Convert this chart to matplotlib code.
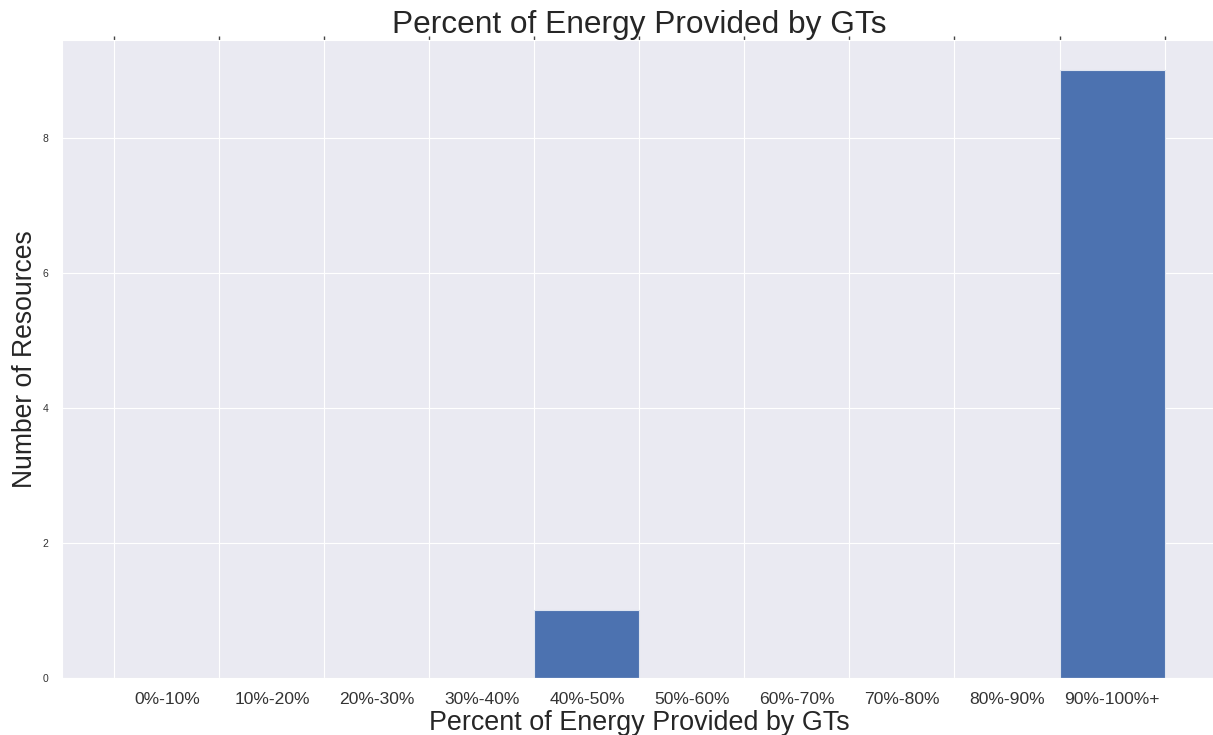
import numpy as np
import matplotlib
matplotlib.use('Agg')
import matplotlib.pyplot as plt
import seaborn as sns

# histogram counts per 10% bin
bin_edges = [0, 10, 20, 30, 40, 50, 60, 70, 80, 90, 100]
counts = [0, 0, 0, 0, 1, 0, 0, 0, 0, 9]
bin_labels = ['0%-10%', '10%-20%', '20%-30%', '30%-40%', '40%-50%',
              '50%-60%', '60%-70%', '70%-80%', '80%-90%', '90%-100%+']
y_ticks = [0, 2, 4, 6, 8]

sns.set_style('darkgrid')
plt.rcParams['font.family'] = ['Liberation Sans', 'DejaVu Sans']

fig = plt.figure(figsize=(12.13, 7.35), dpi=100)
ax = fig.add_axes([0.0511, 0.0776, 0.9522, 0.868])

ax.bar(bin_edges[:-1], counts, width=10, align='edge',
       color='#4C72B0', edgecolor='#dfe5f0', linewidth=0.8, zorder=2)

# gridlines / tick marks on bin edges, labels at bin centers
ax.set_xticks(bin_edges)
ax.set_xticklabels([])
centers = [(a + b) / 2 for a, b in zip(bin_edges[:-1], bin_edges[1:])]
ax.set_xticks(centers, minor=True)
ax.set_xticklabels(bin_labels, minor=True, fontsize=12.6, color='#333333')
ax.tick_params(axis='x', which='major', top=True, bottom=False,
               direction='out', length=3, width=1, color='#444444')
ax.tick_params(axis='x', which='minor', length=0, pad=10)
ax.grid(False, which='minor')

ax.set_yticks(y_ticks)
ax.tick_params(axis='y', labelsize=7.5, labelcolor='#333333', length=0, pad=10)

ax.set_xlim(-5, 105)
ax.set_ylim(0, 9.45)

ax.set_title('Percent of Energy Provided by GTs', fontsize=22.8, color='#262626',
             y=1.0, pad=5)
ax.set_xlabel('Percent of Energy Provided by GTs', fontsize=19.4, color='#262626', labelpad=2)
ax.set_ylabel('Number of Resources', fontsize=19.1, color='#262626', labelpad=3)

fig.savefig('out.png', dpi=100)
